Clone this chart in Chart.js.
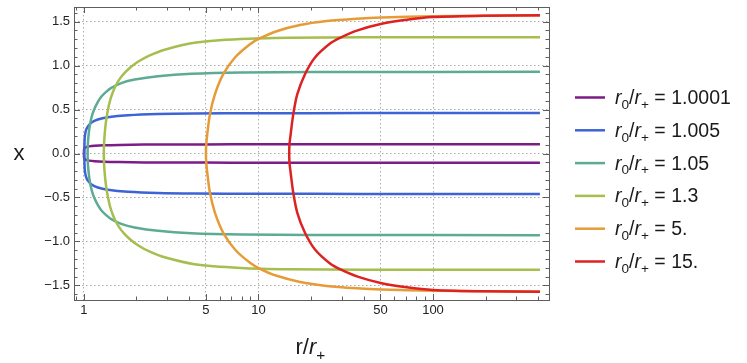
<!DOCTYPE html>
<html>
<head>
<meta charset="UTF-8">
<title>x against r/r+</title>
<style>
	html, body { margin: 0; padding: 0; background: #fff; }
	.container { width: 747px; height: 363px; }
</style>

<script src="https://cdn.jsdelivr.net/npm/chart.js@4.4.1/dist/chart.umd.min.js"></script>

<script type="text/javascript">
	// legend values r0/r+ of the six curves
	var r0Labels = ['1.0001', '1.005', '1.05', '1.3', '5.', '15.'];
	var colors = ['#7B1C87', '#3D63D6', '#5DAA95', '#A6BE4E', '#E79B37', '#DD2222'];

	// upper branch of each curve (r/r+, x); the lower branch is its mirror image
	var r1 = [1.0001, 1.0003, 1.0008, 1.002, 1.005, 1.012, 1.03, 1.07, 1.15, 1.3, 1.6, 2.2, 3.5, 7, 20, 410];
	var x1 = [0, 0.022, 0.036, 0.047, 0.057, 0.065, 0.073, 0.081, 0.088, 0.094, 0.098, 0.101, 0.103, 0.104, 0.105, 0.105];

	var r2 = [1.005, 1.0055, 1.0065, 1.008, 1.0105, 1.015, 1.023, 1.035, 1.055, 1.1, 1.2, 1.37, 1.79, 2.65, 4.3, 10, 40, 410];
	var x2 = [0, 0.06, 0.1, 0.14, 0.18, 0.215, 0.25, 0.28, 0.31, 0.349, 0.386, 0.412, 0.435, 0.449, 0.455, 0.458, 0.459, 0.459];

	var r3 = [1.05, 1.0515, 1.056, 1.064, 1.075, 1.092, 1.12, 1.152, 1.2, 1.256, 1.34, 1.434, 1.636, 1.952, 2.655, 4.12, 8, 20, 410];
	var x3 = [0, 0.08, 0.15, 0.216, 0.29, 0.367, 0.45, 0.515, 0.585, 0.645, 0.70, 0.745, 0.80, 0.84, 0.878, 0.905, 0.92, 0.926, 0.928];

	var r4 = [1.3, 1.302, 1.308, 1.32, 1.34, 1.37, 1.41, 1.46, 1.52, 1.6, 1.7, 1.85, 2.05, 2.35, 2.9, 4.3, 7.9, 15, 40, 410];
	var x4 = [0, 0.08, 0.16, 0.26, 0.375, 0.49, 0.60, 0.69, 0.77, 0.845, 0.91, 0.98, 1.045, 1.11, 1.18, 1.258, 1.30, 1.315, 1.32, 1.322];

	var r5 = [5, 5.02, 5.088, 5.272, 5.633, 6.285, 7.334, 8.94, 10.2, 12.72, 17.3, 24.6, 36.5, 50.8, 100, 200, 410];
	var x5 = [0, 0.1, 0.219, 0.447, 0.674, 0.901, 1.091, 1.242, 1.31, 1.39, 1.46, 1.505, 1.532, 1.546, 1.560, 1.566, 1.568];

	var r6 = [15, 15.05, 15.29, 15.83, 16.69, 18.47, 21.08, 25.7, 29.3, 37, 50.8, 70.6, 100, 194, 410];
	var x6 = [0, 0.1, 0.219, 0.447, 0.674, 0.901, 1.091, 1.25, 1.315, 1.40, 1.475, 1.52, 1.55, 1.566, 1.5705];

	// ticks
	var xMajorTicks = [1, 5, 10, 50, 100];
	var xMinorTicks = [0.9, 2, 3, 4, 6, 7, 8, 9, 20, 30, 40, 60, 70, 80, 90, 200, 300, 400];
	var yMajorTicks = [-1.5, -1, -0.5, 0, 0.5, 1, 1.5];

	var FONT = "'Liberation Sans', Arial, sans-serif";
	var FRAME = '#5e5e5e';

	// lower branch (reversed, negated) + upper branch
	function curve(r, x) {
		var pts = [];
		for (var i = r.length - 1; i > 0; i--) pts.push({x: r[i], y: -x[i]});
		for (var j = 0; j < r.length; j++) pts.push({x: r[j], y: x[j]});
		return pts;
	}

	function isMajorY(v) {
		return yMajorTicks.some(function(m) { return Math.abs(m - v) < 1e-6; });
	}

	// text with italic / subscript pieces: [text, italic, sub]
	function richText(ctx, parts, x, y, size) {
		ctx.textBaseline = 'alphabetic';
		ctx.textAlign = 'left';
		parts.forEach(function(p) {
			var s = p[2] ? size * 0.7 : size;
			ctx.font = (p[1] ? 'italic ' : '') + s + 'px ' + FONT;
			ctx.fillText(p[0], x, y + (p[2] ? size * 0.25 : 0));
			x += ctx.measureText(p[0]).width;
		});
	}

	function line(ctx, x1, y1, x2, y2) {
		ctx.beginPath();
		ctx.moveTo(x1, y1);
		ctx.lineTo(x2, y2);
		ctx.stroke();
	}

	// frame with inward ticks on all four sides, axis titles and legend
	var framePlugin = {
		id: 'frame',
		afterDatasetsDraw: function(chart) {
			var ctx = chart.ctx, a = chart.chartArea;
			var sx = chart.scales.x, sy = chart.scales.y;
			ctx.save();
			ctx.strokeStyle = FRAME;
			ctx.lineWidth = 1;
			ctx.strokeRect(Math.round(a.left) + 0.5, Math.round(a.top) + 0.5,
				Math.round(a.right - a.left), Math.round(a.bottom - a.top));
			sx.ticks.forEach(function(t) {
				var px = Math.round(sx.getPixelForValue(t.value)) + 0.5;
				var len = xMajorTicks.indexOf(t.value) >= 0 ? 6 : 3.5;
				line(ctx, px, a.bottom, px, a.bottom - len);
				line(ctx, px, a.top, px, a.top + len);
			});
			sy.ticks.forEach(function(t) {
				var py = Math.round(sy.getPixelForValue(t.value)) + 0.5;
				var len = isMajorY(t.value) ? 6 : 3.5;
				line(ctx, a.left, py, a.left + len, py);
				line(ctx, a.right, py, a.right - len, py);
			});

			// axis titles
			ctx.fillStyle = '#1a1a1a';
			richText(ctx, [['r', false, false], ['/', false, false], ['r', true, false], ['+', false, true]],
				(a.left + a.right) / 2 - 16, 354, 22);
			ctx.font = '22px ' + FONT;
			ctx.textAlign = 'center';
			ctx.textBaseline = 'middle';
			ctx.fillText('x', 19, (a.top + a.bottom) / 2);

			// legend
			chart.data.datasets.forEach(function(ds, i) {
				var yc = 97.5 + i * 32.8;
				ctx.strokeStyle = ds.borderColor;
				ctx.lineWidth = 2.5;
				line(ctx, 575, yc, 605, yc);
				ctx.fillStyle = '#1a1a1a';
				richText(ctx, [['r', true, false], ['0', false, true], ['/', false, false], ['r', true, false],
					['+', false, true], [' = ' + r0Labels[i], false, false]], 615, yc + 6.5, 19.5);
			});
			ctx.restore();
		}
	};

	document.addEventListener('DOMContentLoaded', function() {
		var rs = [r1, r2, r3, r4, r5, r6];
		var xs = [x1, x2, x3, x4, x5, x6];
		var datasets = rs.map(function(r, i) {
			return {
				label: 'r\u2080/r\u208A = ' + r0Labels[i],
				data: curve(r, xs[i]),
				showLine: true,
				borderColor: colors[i],
				backgroundColor: colors[i],
				borderWidth: 2.5,
				pointRadius: 0,
				tension: 0.3,
				order: 6 - i
			};
		});

		var yTicks = [];
		for (var k = -16; k <= 16; k++) yTicks.push(k / 10);
		var xTicks = xMajorTicks.concat(xMinorTicks).sort(function(p, q) { return p - q; });

		var ctx = document.getElementById('myChart').getContext('2d');
		new Chart(ctx, {
			type: 'scatter',
			data: { datasets: datasets },
			options: {
				responsive: false,
				animation: false,
				layout: { padding: { top: 7, right: 198, left: 0, bottom: 0 } },
				plugins: { legend: { display: false }, tooltip: { enabled: false } },
				scales: {
					x: {
						type: 'logarithmic',
						min: 0.877,
						max: 462,
						afterBuildTicks: function(s) { s.ticks = xTicks.map(function(v) { return {value: v}; }); },
						afterFit: function(s) { s.height = 63; s.paddingLeft = 0; s.paddingRight = 0; },
						ticks: {
							autoSkip: false, maxRotation: 0, minRotation: 0, padding: 3, color: '#222',
							font: { family: FONT, size: 13 },
							callback: function(v) { return xMajorTicks.indexOf(v) >= 0 ? String(v) : ''; }
						},
						grid: {
							drawTicks: false,
							lineWidth: 1,
							color: function(c) { return c.tick && xMajorTicks.indexOf(c.tick.value) >= 0 ? '#aaaaaa' : 'rgba(0,0,0,0)'; }
						},
						border: { display: false, dash: [1.5, 2.5] }
					},
					y: {
						min: -1.665,
						max: 1.665,
						afterBuildTicks: function(s) { s.ticks = yTicks.map(function(v) { return {value: v}; }); },
						afterFit: function(s) { s.width = 74; s.paddingTop = 0; s.paddingBottom = 0; },
						ticks: {
							autoSkip: false, padding: 4, color: '#222',
							font: { family: FONT, size: 13 },
							callback: function(v) {
								if (!isMajorY(v)) return '';
								var s = Math.abs(v).toFixed(1);
								return v < -1e-9 ? '\u2212' + s : s;
							}
						},
						grid: {
							drawTicks: false,
							lineWidth: 1,
							color: function(c) { return c.tick && isMajorY(c.tick.value) ? '#aaaaaa' : 'rgba(0,0,0,0)'; }
						},
						border: { display: false, dash: [1.5, 2.5] }
					}
				}
			},
			plugins: [framePlugin]
		});
	});
</script>
</head>

<body>
	<div class="container">
		<canvas id="myChart" width="747" height="363"></canvas>
	</div>
</body>
</html>
